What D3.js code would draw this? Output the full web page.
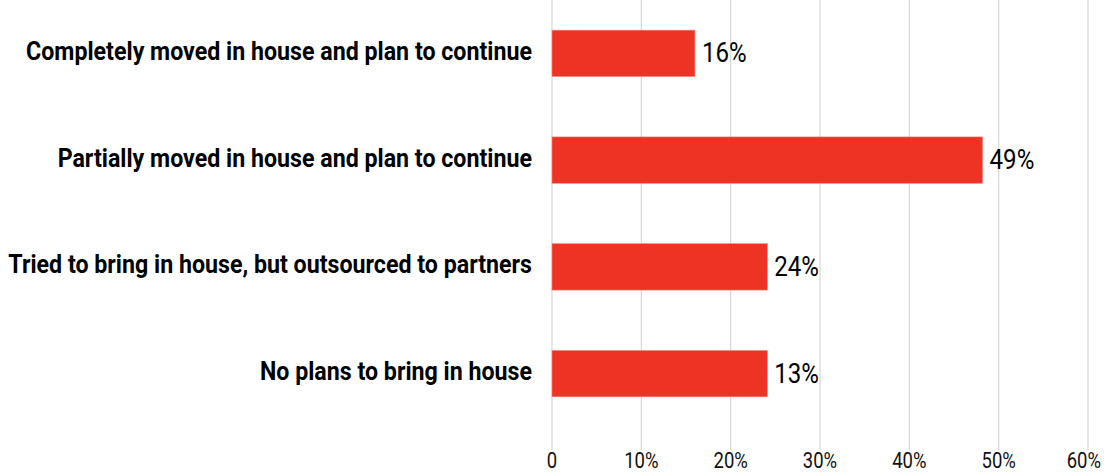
<!DOCTYPE html>
<html><head><meta charset="utf-8">
<script src="https://cdn.jsdelivr.net/npm/d3@7"></script>
<style>
html,body{margin:0;padding:0;background:#fff;}
svg{display:block;}
</style></head>
<body><svg id="chart" width="1107" height="474"></svg>
<script>
const categories = [
  "Completely moved in house and plan to continue",
  "Partially moved in house and plan to continue",
  "Tried to bring in house, but outsourced to partners",
  "No plans to bring in house"
];
const barValues = [16, 48.2, 24.1, 24.1];
const valueLabels = ["16%", "49%", "24%", "13%"];
const tickValues = [0, 10, 20, 30, 40, 50, 60];
const tickLabels = ["0", "10%", "20%", "30%", "40%", "50%", "60%"];

const svg = d3.select("#chart");
const W = 1107;
const x0 = 552, x1 = 1088;
const x = d3.scaleLinear().domain([0, 60]).range([x0, x1]);
const y = d3.scaleBand().domain(categories).range([0, 427])
  .paddingInner(0.565).paddingOuter(0.2825);

function condense(sel, k) {
  sel.each(function () {
    const w = this.getComputedTextLength();
    d3.select(this).attr("textLength", w * k).attr("lengthAdjust", "spacingAndGlyphs");
  });
}

// gridlines
svg.append("g").selectAll("line").data(tickValues).join("line")
  .attr("x1", d => x(d)).attr("x2", d => x(d))
  .attr("y1", 0).attr("y2", 450)
  .attr("stroke", "#d6d6d6").attr("stroke-width", 1.2);

// tick labels (last one right-aligned so it stays inside the frame)
const last = tickValues.length - 1;
const tl = svg.append("g").selectAll("text").data(tickValues).join("text")
  .attr("x", (d, i) => i === last ? W - 6 : x(d)).attr("y", 468)
  .attr("text-anchor", (d, i) => i === last ? "end" : "middle")
  .attr("font-family", "Roboto").attr("font-size", 22)
  .attr("fill", "#111")
  .text((d, i) => tickLabels[i]);
condense(tl, 0.84);

// bars
svg.append("g").selectAll("rect").data(barValues).join("rect")
  .attr("x", x(0)).attr("y", (d, i) => y(categories[i]))
  .attr("width", d => x(d) - x(0)).attr("height", y.bandwidth())
  .attr("fill", "#ee3224").attr("stroke", "#f58a80").attr("stroke-width", 0.6);

// category labels
const cl = svg.append("g").selectAll("text").data(categories).join("text")
  .attr("x", x0 - 20).attr("y", d => y(d) + y.bandwidth() / 2)
  .attr("dy", "0.26em").attr("text-anchor", "end")
  .attr("font-family", "Roboto").attr("font-weight", "bold").attr("font-size", 25)
  .attr("fill", "#000")
  .text(d => d);
condense(cl, 0.928);

// value labels
const vl = svg.append("g").selectAll("text").data(barValues).join("text")
  .attr("x", d => x(d) + 7).attr("y", (d, i) => y(categories[i]) + y.bandwidth() / 2)
  .attr("dy", "0.32em")
  .attr("font-family", "Roboto").attr("font-size", 28)
  .attr("fill", "#000")
  .text((d, i) => valueLabels[i]);
condense(vl, 0.86);
</script></body></html>
